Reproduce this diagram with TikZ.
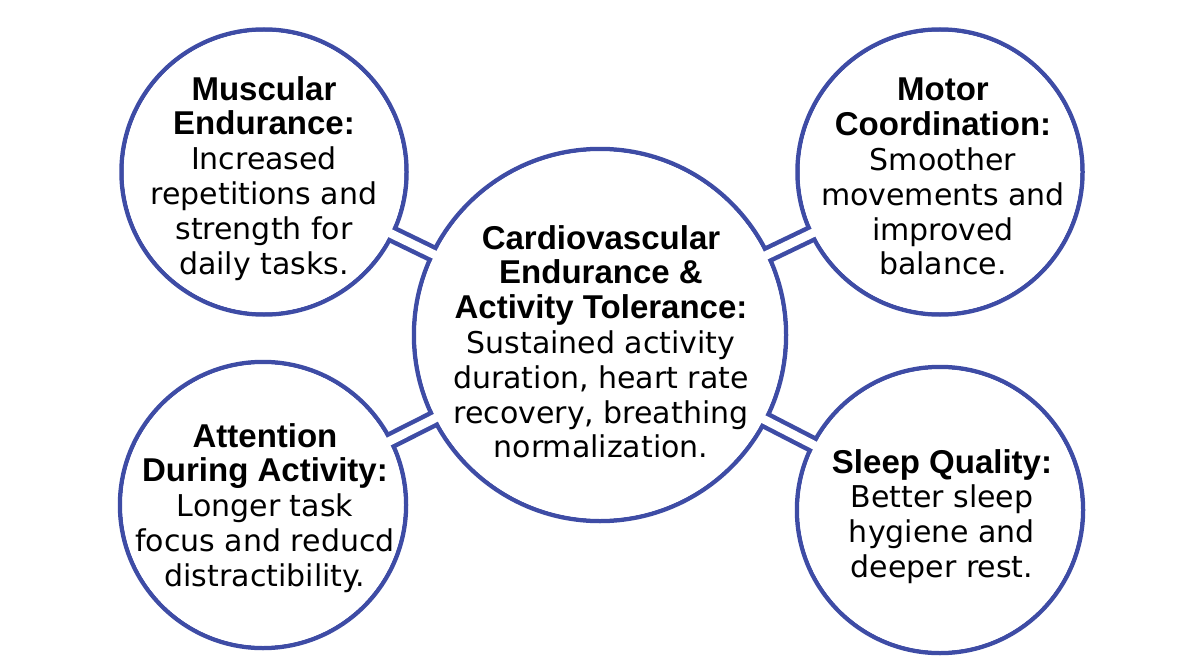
\documentclass[tikz,border=0pt]{standalone}
\usepackage{fontspec}
\setmainfont{DejaVu Sans}
\newfontfamily\titlefont{Liberation Sans Bold}
\definecolor{ringblue}{RGB}{62,76,165}
\tikzset{
  ring/.style={circle, draw=ringblue, line width=4.5pt, inner sep=0pt},
  bridgeout/.style={draw=ringblue, line width=17.5pt, line cap=butt},
  bridgein/.style={draw=white, line width=8.5pt, line cap=butt},
  label/.style={align=center, inner sep=0pt, anchor=north, text=black,
    font=\fontsize{30}{34.8}\selectfont}
}
\newcommand{\ttl}[1]{{\titlefont\fontsize{33}{34.8}\selectfont #1}}
\begin{document}
\begin{tikzpicture}[x=1pt,y=-1pt]
\useasboundingbox (0,0) rectangle (1200,669);
\fill[white] (0,0) rectangle (1200,669);
% circles (outline)
\node[ring, minimum size=372pt] (c)  at (600,335) {};
\node[ring, minimum size=285pt] (tl) at (264,172) {};
\node[ring, minimum size=285pt] (tr) at (940,172) {};
\node[ring, minimum size=286pt] (bl) at (263,505) {};
\node[ring, minimum size=286pt] (br) at (940,510) {};
% necks
\foreach \n in {tl,tr,bl,br} {
  \path[bridgeout] (c.center) -- (\n.center);
}
\foreach \n in {tl,tr,bl,br} {
  \path[bridgein] (c.center) -- (\n.center);
}
% interiors
\fill[white] (c.center) circle[radius=183.75];
\fill[white] (tl.center) circle[radius=140.25];
\fill[white] (tr.center) circle[radius=140.25];
\fill[white] (bl.center) circle[radius=140.75];
\fill[white] (br.center) circle[radius=140.75];
% texts
\node[label] (tltext) at (264,76) {\ttl{Muscular}\\\ttl{Endurance:}\\Increased\\repetitions and\\strength for\\daily tasks.};
\node[label] (ctext) at (601,225) {\ttl{Cardiovascular}\\\ttl{Endurance \&}\\\ttl{Activity Tolerance:}\\Sustained activity\\duration, heart rate\\recovery, breathing\\normalization.};
\node[label] (trtext) at (943,78) {\ttl{Motor}\\\ttl{Coordination:}\\Smoother\\movements and\\improved\\balance.};
\node[label] (bltext) at (265,423) {\ttl{Attention}\\\ttl{During Activity:}\\Longer task\\focus and reducd\\distractibility.};
\node[label] (brtext) at (942,449) {\ttl{Sleep Quality:}\\Better sleep\\hygiene and\\deeper rest.};
\end{tikzpicture}
\end{document}
